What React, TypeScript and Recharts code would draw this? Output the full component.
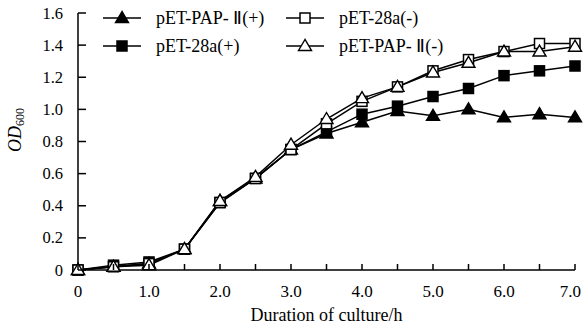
import React from 'react';
import { LineChart, Line, XAxis, YAxis, Legend } from 'recharts';

const hours = [0, 0.5, 1.0, 1.5, 2.0, 2.5, 3.0, 3.5, 4.0, 4.5, 5.0, 5.5, 6.0, 6.5, 7.0];
const papPlus = [0, 0.02, 0.04, 0.13, 0.43, 0.57, 0.75, 0.85, 0.92, 0.99, 0.96, 1.0, 0.95, 0.97, 0.95];
const vecPlus = [0, 0.03, 0.05, 0.13, 0.42, 0.57, 0.75, 0.86, 0.97, 1.02, 1.08, 1.13, 1.21, 1.24, 1.27];
const vecMinus = [0, 0.02, 0.04, 0.13, 0.42, 0.57, 0.75, 0.91, 1.05, 1.14, 1.24, 1.31, 1.36, 1.41, 1.41];
const papMinus = [0, 0.02, 0.03, 0.13, 0.43, 0.58, 0.78, 0.94, 1.07, 1.14, 1.23, 1.29, 1.36, 1.36, 1.39];

const xTicks = [0, 0.5, 1.0, 1.5, 2.0, 2.5, 3.0, 3.5, 4.0, 4.5, 5.0, 5.5, 6.0, 6.5, 7.0];
const yTicks = [0, 0.2, 0.4, 0.6, 0.8, 1.0, 1.2, 1.4, 1.6];

const seriesNames = ['pET-PAP- Ⅱ(+)', 'pET-28a(+)', 'pET-28a(-)', 'pET-PAP- Ⅱ(-)'];

const data = hours.map((t, i) => ({
  t,
  papPlus: papPlus[i],
  vecPlus: vecPlus[i],
  vecMinus: vecMinus[i],
  papMinus: papMinus[i],
}));

const FONT = '"Liberation Serif", "Times New Roman", serif';

type Shape = 'triFilled' | 'sqFilled' | 'sqOpen' | 'triOpen';

function Marker({ cx, cy, shape }: { cx: number; cy: number; shape: Shape }) {
  if (cx == null || cy == null || isNaN(cx) || isNaN(cy)) return null;
  if (shape === 'triFilled' || shape === 'triOpen') {
    const w = 6.5;
    const pts = `${cx},${cy - 6.5} ${cx - w},${cy + 4.5} ${cx + w},${cy + 4.5}`;
    return (
      <polygon
        points={pts}
        fill={shape === 'triFilled' ? '#000' : '#fff'}
        stroke="#000"
        strokeWidth={1.4}
      />
    );
  }
  const s = 5;
  return (
    <rect
      x={cx - s}
      y={cy - s}
      width={2 * s}
      height={2 * s}
      fill={shape === 'sqFilled' ? '#000' : '#fff'}
      stroke="#000"
      strokeWidth={1.5}
    />
  );
}

const makeDot = (shape: Shape) => (props: any) => (
  <Marker key={`${shape}-${props.index}`} cx={props.cx} cy={props.cy} shape={shape} />
);

const X_MARGIN = 14;
const XTick = (props: any) => {
  const { x, y, payload } = props;
  const v = payload.value as number;
  const axisY = y - X_MARGIN;
  const isInt = Math.abs(v - Math.round(v)) < 1e-6;
  const label = isInt ? (v === 0 ? '0' : v.toFixed(1)) : '';
  const last = v === xTicks[xTicks.length - 1];
  return (
    <g>
      <line x1={x} y1={axisY} x2={x} y2={axisY - 6} stroke="#000" strokeWidth={1.5} />
      {label && (
        <text
          x={last ? x + 6 : x}
          y={axisY + 27}
          textAnchor={last ? 'end' : 'middle'}
          fontFamily={FONT}
          style={{ fontFamily: FONT }}
          fontSize={17}
          fill="#000"
        >
          {label}
        </text>
      )}
    </g>
  );
};

const Y_MARGIN = 15;
const YTick = (props: any) => {
  const { x, y, payload } = props;
  const v = payload.value as number;
  const axisX = x + Y_MARGIN;
  const label = v === 0 ? '0' : v.toFixed(1);
  return (
    <g>
      <line x1={axisX} y1={y} x2={axisX + 8} y2={y} stroke="#000" strokeWidth={1.5} />
      <text
        x={x}
        y={y + 5.5}
        textAnchor="end"
        fontFamily={FONT}
        style={{ fontFamily: FONT }}
        fontSize={16.5}
        fill="#000"
      >
        {label}
      </text>
    </g>
  );
};

const legendItems: { name: string; shape: Shape; col: number; row: number }[] = [
  { name: seriesNames[0], shape: 'triFilled', col: 0, row: 0 },
  { name: seriesNames[2], shape: 'sqOpen', col: 1, row: 0 },
  { name: seriesNames[1], shape: 'sqFilled', col: 0, row: 1 },
  { name: seriesNames[3], shape: 'triOpen', col: 1, row: 1 },
];

const LegendContent = () => (
  <svg width={584} height={60} style={{ display: 'block', fontFamily: FONT }}>
    {legendItems.map((it) => {
      const x0 = 103 + it.col * 183;
      const y0 = 18 + it.row * 28;
      return (
        <g key={it.name}>
          <line x1={x0} y1={y0} x2={x0 + 38} y2={y0} stroke="#000" strokeWidth={1.5} />
          <Marker cx={x0 + 19} cy={y0} shape={it.shape} />
          <text
            x={x0 + 53}
            y={y0 + 6}
            fontFamily={FONT}
            style={{ fontFamily: FONT }}
            fontSize={18}
            fill="#000"
          >
            {it.name}
          </text>
        </g>
      );
    })}
  </svg>
);

const YLabel = () => (
  <text
    transform="translate(21,130) rotate(-90)"
    textAnchor="middle"
    fontFamily={FONT}
    style={{ fontFamily: FONT }}
    fill="#000"
  >
    <tspan fontStyle="italic" fontSize={18}>OD</tspan>
    <tspan fontSize={12} dy={3}>600</tspan>
  </text>
);

export default function App() {
  return (
    <div style={{ position: 'absolute', left: 0, top: 0, width: 584, height: 326, background: '#fff' }}>
      <LineChart
        width={584}
        height={326}
        data={data}
        margin={{ top: 13, right: 9, bottom: 0, left: 0 }}
      >
        <XAxis
          dataKey="t"
          type="number"
          domain={[0, 7]}
          ticks={xTicks}
          interval={0}
          tickSize={0}
          tickMargin={X_MARGIN}
          tick={<XTick />}
          axisLine={{ stroke: '#000', strokeWidth: 1.5 }}
          height={56}
          label={{
            value: 'Duration of culture/h',
            position: 'insideBottom',
            offset: 5,
            style: { fontFamily: FONT, fontSize: 18, fill: '#000' },
          }}
        />
        <YAxis
          type="number"
          domain={[0, 1.6]}
          ticks={yTicks}
          interval={0}
          tickSize={0}
          tickMargin={Y_MARGIN}
          tick={<YTick />}
          axisLine={{ stroke: '#000', strokeWidth: 1.5 }}
          width={78}
          label={<YLabel />}
        />
        <Legend
          layout="horizontal"
          verticalAlign="middle"
          align="center"
          content={<LegendContent />}
          wrapperStyle={{ position: 'absolute', left: 0, top: 0, width: 584, height: 60 }}
        />
        <Line
          dataKey="papPlus"
          name={seriesNames[0]}
          stroke="#000"
          strokeWidth={1.5}
          isAnimationActive={false}
          dot={makeDot('triFilled')}
          activeDot={false}
        />
        <Line
          dataKey="vecPlus"
          name={seriesNames[1]}
          stroke="#000"
          strokeWidth={1.5}
          isAnimationActive={false}
          dot={makeDot('sqFilled')}
          activeDot={false}
        />
        <Line
          dataKey="vecMinus"
          name={seriesNames[2]}
          stroke="#000"
          strokeWidth={1.5}
          isAnimationActive={false}
          dot={makeDot('sqOpen')}
          activeDot={false}
        />
        <Line
          dataKey="papMinus"
          name={seriesNames[3]}
          stroke="#000"
          strokeWidth={1.5}
          isAnimationActive={false}
          dot={makeDot('triOpen')}
          activeDot={false}
        />
      </LineChart>
    </div>
  );
}
